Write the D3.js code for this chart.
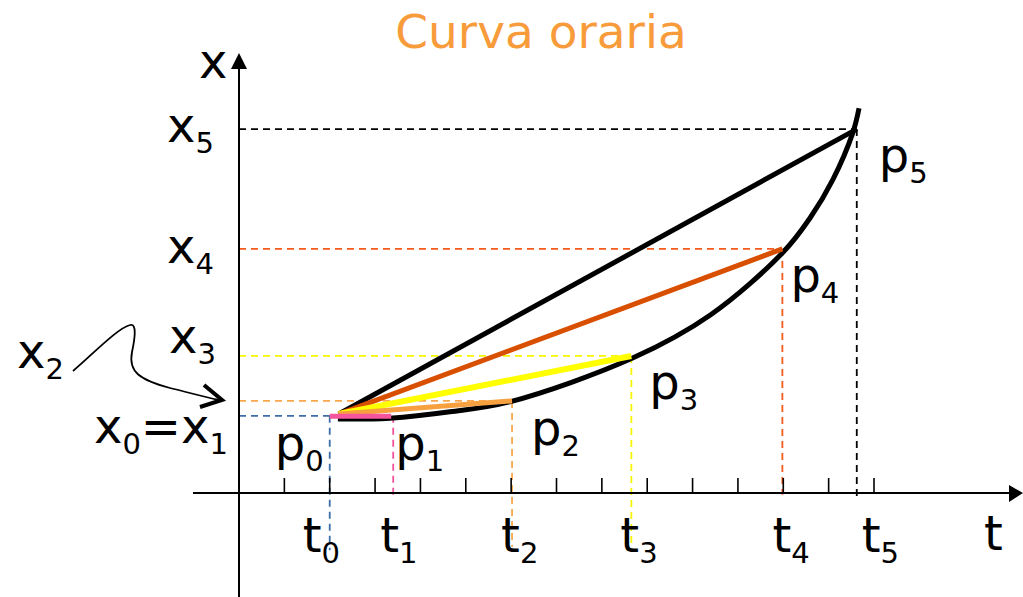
<!DOCTYPE html>
<html>
<head>
<meta charset="utf-8">
<script src="https://cdn.jsdelivr.net/npm/d3@7"></script>
<style>
  body { margin: 0; background: #fff; }
  svg { display: block; }
  text { font-family: "DejaVu Sans", Verdana, sans-serif; fill: #000; }
</style>
</head>
<body>
<div id="chart"></div>
<script>
// instants t0..t5 and positions x0..x5 (in tick units)
const tValues = [2.0, 3.4, 6.02, 8.65, 11.98, 13.62];
const xValues = [1.70, 1.70, 2.03, 3.02, 5.38, 8.02];
const tNames = ["0", "1", "2", "3", "4", "5"];
const pNames = ["0", "1", "2", "3", "4", "5"];

// the hourly curve x(t)
const curveT = [2.18, 3.33, 4.65, 5.97, 8.69, 10.4, 12.0, 12.59, 13.09, 13.53, 13.67];
const curveX = [1.63, 1.65, 1.79, 2.01, 2.98, 3.93, 5.31, 6.06, 6.90, 7.93, 8.48];

// where the secant lines leave the curve
const chordStart = [2.2, 1.74];

// ticks on the time axis
const tTicks = d3.range(1, 15);

async function draw() {
  const width = 1023, height = 597;

  const svg = d3.select("#chart")
    .append("svg")
    .attr("width", width)
    .attr("height", height)
    .attr("viewBox", [0, 0, width, height]);

  // same unit on both axes, origin where the axes cross
  const tScale = d3.scaleLinear().domain([0, 14]).range([239, 874]);
  const xScale = d3.scaleLinear().domain([0, 8]).range([493, 130]);

  const guideColors = ["#3b6ea6", "#f2529c", "#f9a64c", "#f6f600", "#f55a1e", "#000000"];
  const chordColors = [null, "#f4559d", "#f7a040", "#ffff00", "#d94f00", "#000000"];
  // how far below the t axis each dashed drop line runs (x units)
  const dropEnds = [-1.26, -0.15, -1.19, -1.26, -0.04, -0.09];

  // dashed guides
  const guides = svg.append("g")
    .attr("fill", "none")
    .attr("stroke-width", 1.8)
    .attr("stroke-dasharray", "7,5");

  tValues.forEach((t, i) => {
    guides.append("line")
      .attr("x1", tScale(t)).attr("x2", tScale(t))
      .attr("y1", xScale(xValues[i])).attr("y2", xScale(dropEnds[i]))
      .attr("stroke", guideColors[i]);
    if (i !== 1) {
      guides.append("line")
        .attr("x1", tScale(0)).attr("x2", tScale(t))
        .attr("y1", xScale(xValues[i])).attr("y2", xScale(xValues[i]))
        .attr("stroke", guideColors[i]);
    }
  });

  // axes
  const axes = svg.append("g").attr("stroke", "#000");
  axes.append("line")
    .attr("x1", tScale(0)).attr("x2", tScale(0))
    .attr("y1", height).attr("y2", 62)
    .attr("stroke-width", 2);
  axes.append("path")
    .attr("d", `M${tScale(0)},53 L${tScale(0) - 8},69 L${tScale(0) + 8},69 Z`)
    .attr("fill", "#000").attr("stroke", "none");
  axes.append("line")
    .attr("x1", 193).attr("x2", 1012)
    .attr("y1", xScale(0)).attr("y2", xScale(0))
    .attr("stroke-width", 2);
  axes.append("path")
    .attr("d", `M1023,${xScale(0)} L1009,${xScale(0) - 8} L1009,${xScale(0) + 9} Z`)
    .attr("fill", "#000").attr("stroke", "none");
  axes.selectAll(".tick")
    .data(tTicks)
    .join("line")
    .attr("class", "tick")
    .attr("x1", d => tScale(d)).attr("x2", d => tScale(d))
    .attr("y1", xScale(0)).attr("y2", xScale(0) - 15)
    .attr("stroke-width", 1.6);

  // the hourly curve
  const curveData = curveT.map((t, i) => [t, curveX[i]]);
  const line = d3.line()
    .x(d => tScale(d[0]))
    .y(d => xScale(d[1]))
    .curve(d3.curveCatmullRom.alpha(0.5));
  svg.append("path")
    .datum(curveData)
    .attr("d", line)
    .attr("fill", "none")
    .attr("stroke", "#000")
    .attr("stroke-width", 5);

  // secants from p0 to p5..p2, then the short pink p0-p1 piece on top
  const chords = svg.append("g").attr("fill", "none").attr("stroke-linecap", "butt");
  for (let i = 5; i >= 2; i--) {
    chords.append("line")
      .attr("x1", tScale(chordStart[0])).attr("y1", xScale(chordStart[1]))
      .attr("x2", tScale(tValues[i])).attr("y2", xScale(xValues[i]))
      .attr("stroke", chordColors[i])
      .attr("stroke-width", i === 3 ? 6 : 5);
  }
  chords.append("line")
    .attr("x1", tScale(tValues[0])).attr("y1", xScale(xValues[0]) + 0.5)
    .attr("x2", tScale(tValues[1]) - 2).attr("y2", xScale(xValues[1]) + 0.5)
    .attr("stroke", chordColors[1])
    .attr("stroke-width", 5);

  // text with subscripts
  const mainSize = 48, subSize = 29, drop = 11;
  function label(x, y, parts) {
    const txt = svg.append("text")
      .attr("x", x).attr("y", y)
      .attr("font-size", mainSize);
    let low = false;
    parts.forEach(([s, isSub]) => {
      const sp = txt.append("tspan").text(s);
      if (isSub && !low) { sp.attr("dy", drop).attr("font-size", subSize); low = true; }
      else if (isSub) { sp.attr("font-size", subSize); }
      else if (low) { sp.attr("dy", -drop); low = false; }
    });
  }

  // title
  svg.append("text")
    .attr("x", 541).attr("y", 48)
    .attr("text-anchor", "middle")
    .attr("font-size", 47)
    .style("fill", "#f79b3b")
    .text("Curva oraria");

  // axis names
  label(199, 78, [["x", false]]);
  label(984, 550, [["t", false]]);

  // x labels on the left
  label(167, xScale(xValues[5]) + 13, [["x", false], ["5", true]]);
  label(167, xScale(xValues[4]) + 14, [["x", false], ["4", true]]);
  label(169, xScale(xValues[3]) - 3, [["x", false], ["3", true]]);
  label(17, 368, [["x", false], ["2", true]]);
  label(94, 443, [["x", false], ["0", true], ["=", false], ["x", false], ["1", true]]);

  // t labels under the axis
  const tLabelDx = [-27, -13, -11, -11, -10, 5];
  tValues.forEach((t, i) => {
    label(tScale(t) + tLabelDx[i], 552, [["t", false], [tNames[i], true]]);
  });

  // point labels
  const pLabelDx = [-55, 2, 19, 18, 8, 22];
  const pLabelDy = [44, 44, 44, 43, 43, 43];
  tValues.forEach((t, i) => {
    label(tScale(t) + pLabelDx[i], xScale(xValues[i]) + pLabelDy[i], [["p", false], [pNames[i], true]]);
  });

  // hand-drawn arrow pointing x2 to its level on the axis
  svg.append("path")
    .attr("d", "M73,371 C95,352 118,328 130,325 C137,323 135,338 132,352 C128,372 140,380 170,388 C190,393 205,397 219,400")
    .attr("fill", "none")
    .attr("stroke", "#000")
    .attr("stroke-width", 1.8);
  svg.append("path")
    .attr("d", "M204,385 L222,400 L200,407")
    .attr("fill", "none")
    .attr("stroke", "#000")
    .attr("stroke-width", 4)
    .attr("stroke-linejoin", "miter");
}

draw();
</script>
</body>
</html>
